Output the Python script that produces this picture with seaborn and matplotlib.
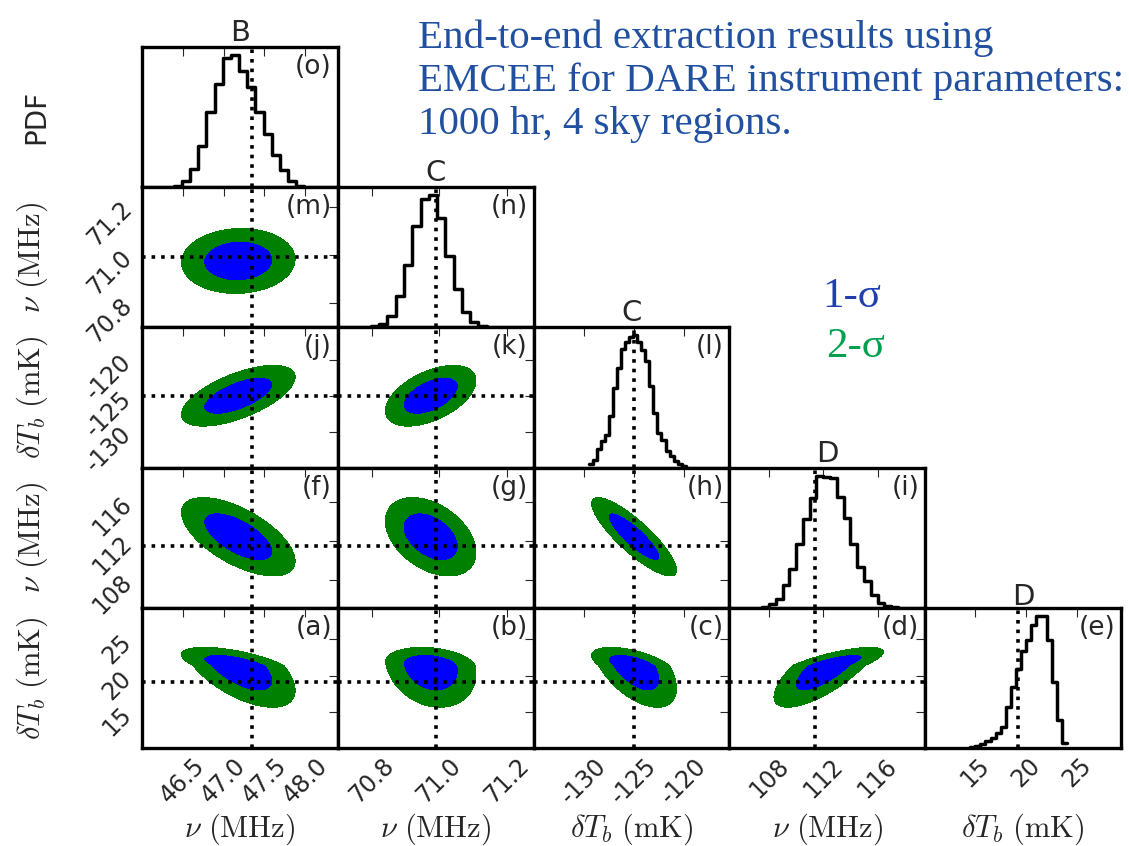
import numpy as np
import pandas as pd
import seaborn as sns
import matplotlib.pyplot as plt

# parameter order: nu_B, nu_C, dTb_C, nu_D, dTb_D
param_labels = [r"$\nu\ (\mathrm{MHz})$", r"$\nu\ (\mathrm{MHz})$", r"$\delta T_b\ (\mathrm{mK})$",
                r"$\nu\ (\mathrm{MHz})$", r"$\delta T_b\ (\mathrm{mK})$"]
feature_names = ["B", "C", "C", "D", "D"]
panel_tags = [["(o)"], ["(m)", "(n)"], ["(j)", "(k)", "(l)"],
              ["(f)", "(g)", "(h)", "(i)"], ["(a)", "(b)", "(c)", "(d)", "(e)"]]
truths = [47.35, 70.99, -125.0, 111.4, 19.15]
axis_ranges = [(46.0, 48.4), (70.70, 71.28), (-135.0, -115.5), (105.1, 119.5), (10.1, 29.3)]
tick_values = [[46.5, 47.0, 47.5, 48.0], [70.8, 71.0, 71.2], [-130, -125, -120], [108, 112, 116], [15, 20, 25]]
tick_formats = ["%.1f", "%.1f", "%d", "%d", "%d"]

# marginal histograms (heights relative to peak), read bin by bin
hist_start = [46.39, 70.798, -129.47, 107.5, 14.5]
hist_width = [0.1, 0.0245, 0.4, 0.5, 0.5]
hist_nuB = [0.013, 0.05, 0.14, 0.31, 0.57, 0.78, 0.98, 1.0, 0.88, 0.76, 0.57, 0.40, 0.24, 0.13, 0.05, 0.013]
hist_nuC = [0.01, 0.025, 0.09, 0.24, 0.47, 0.77, 0.97, 1.0, 0.83, 0.54, 0.29, 0.12, 0.04, 0.01]
hist_dTC = [0.025, 0.06, 0.14, 0.20, 0.25, 0.39, 0.60, 0.75, 0.90, 0.95, 0.99, 1.0,
            0.95, 0.89, 0.81, 0.62, 0.41, 0.26, 0.21, 0.125, 0.09, 0.05, 0.03, 0.012]
hist_nuD = [0.005, 0.03, 0.07, 0.17, 0.29, 0.48, 0.67, 0.83, 1.0, 0.99, 0.98, 0.84, 0.68, 0.48,
            0.31, 0.20, 0.10, 0.04, 0.013, 0.003]
hist_dTD = [0.005, 0.013, 0.03, 0.05, 0.076, 0.11, 0.16, 0.31, 0.46, 0.60, 0.73, 0.82, 0.93, 1.0,
            0.995, 0.82, 0.50, 0.21, 0.04]
hist_heights = [hist_nuB, hist_nuC, hist_dTC, hist_nuD, hist_dTD]

# 2D posterior summary (mode, lower/upper widths, correlations)
post_mode = [47.18, 70.975, -125.0, 112.4, 21.4]
sigma_low = [0.28, 0.054, 1.7, 1.62, 2.3]
sigma_high = [0.28, 0.054, 1.7, 1.62, 1.0]
corr = {(1, 0): 0.05,
        (2, 0): 0.62, (2, 1): 0.5,
        (3, 0): -0.62, (3, 1): -0.4, (3, 2): -0.85,
        (4, 0): -0.6, (4, 1): -0.2, (4, 2): -0.55, (4, 3): 0.75}
levels = [0, 2.30, 6.18]  # 1-sigma and 2-sigma regions

sns.set_style("white")
plt.rcParams['font.family'] = ['DejaVu Sans']
plt.rcParams['mathtext.fontset'] = 'cm'
plt.rcParams['axes.unicode_minus'] = False


def zscore(v, k):
    s = np.where(v < post_mode[k], sigma_low[k], sigma_high[k])
    return (v - post_mode[k]) / s


fig = plt.figure(figsize=(11.29, 8.46), dpi=100)
gs = fig.add_gridspec(5, 5, left=0.1258, right=0.993, top=0.9444, bottom=0.1158, wspace=0, hspace=0)

for i in range(5):
    for j in range(i + 1):
        ax = fig.add_subplot(gs[i, j])
        if i == j:
            edges = [hist_start[j] + hist_width[j] * n for n in range(len(hist_heights[j]) + 1)]
            centers = [0.5 * (a + b) for a, b in zip(edges[:-1], edges[1:])]
            df = pd.DataFrame({"x": centers, "w": hist_heights[j]})
            sns.histplot(data=df, x="x", weights="w", bins=edges, element="step", fill=False,
                         color="black", linewidth=2.5, ax=ax)
            ax.axvline(truths[j], color="black", ls=":", lw=2.6)
            ax.set_ylim(0, 1.06)
            ax.set_yticks([])
            ax.set_title(feature_names[j], fontsize=21, pad=2)
        else:
            xs = np.linspace(*axis_ranges[j], 300)
            ys = np.linspace(*axis_ranges[i], 300)
            X, Y = np.meshgrid(xs, ys)
            u = zscore(X, j)
            v = zscore(Y, i)
            r = corr[(i, j)]
            r2 = (u ** 2 - 2 * r * u * v + v ** 2) / (1 - r ** 2)
            ax.contourf(X, Y, r2, levels=levels, colors=["#0000ff", "#008000"])
            ax.axvline(truths[j], color="black", ls=":", lw=2.6)
            ax.axhline(truths[i], color="black", ls=":", lw=2.6)
            ax.set_ylim(*axis_ranges[i])
            ax.set_yticks(tick_values[i])
            if j == 0:
                ax.set_yticklabels([tick_formats[i] % t for t in tick_values[i]], rotation=45, fontsize=17)
                ax.set_ylabel(param_labels[i], fontsize=22)
                ax.yaxis.set_label_coords(-0.47, 0.5)
            else:
                ax.set_yticklabels([])
        ax.set_xlim(*axis_ranges[j])
        ax.set_xticks(tick_values[j])
        if i == 4:
            ax.set_xticklabels([tick_formats[j] % t for t in tick_values[j]], rotation=45, fontsize=17)
            ax.set_xlabel(param_labels[j], fontsize=22)
            ax.xaxis.set_label_coords(0.5, -0.45)
        else:
            ax.set_xticklabels([])
            ax.set_xlabel("")
        if i == 0:
            ax.set_ylabel("PDF", fontsize=20)
            ax.yaxis.set_label_coords(-0.47, 0.5)
        elif i == j:
            ax.set_ylabel("")
        ax.tick_params(direction="in", top=True, right=True, length=6.5, width=0.8, pad=4)
        for sp in ax.spines.values():
            sp.set_linewidth(2.4)
            sp.set_color("black")
        ax.text(0.97, 0.95, panel_tags[i][j], transform=ax.transAxes, ha="right", va="top", fontsize=19)

title_lines = ["End-to-end extraction results using",
               "EMCEE for DARE instrument parameters:",
               "1000 hr, 4 sky regions."]
for k, line in enumerate(title_lines):
    fig.text(0.370, 1 - (48 + 43 * k) / 846, line, fontsize=29.5, family="Liberation Serif",
             color="#2150a0", va="baseline", ha="left")
fig.text(852 / 1129, 1 - 297 / 846, "1-σ", fontsize=31, family="Liberation Serif",
         color="#1f3fae", ha="center", va="center")
fig.text(856 / 1129, 1 - 347 / 846, "2-σ", fontsize=31, family="Liberation Serif",
         color="#00a04e", ha="center", va="center")

fig.savefig("out.png", dpi=100)
